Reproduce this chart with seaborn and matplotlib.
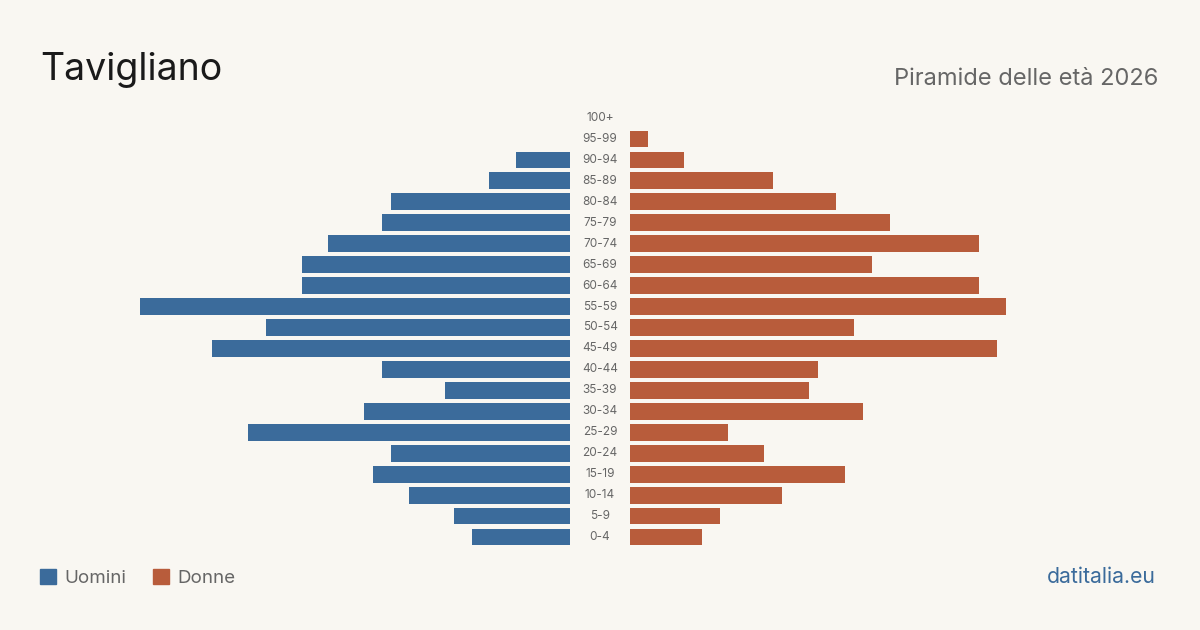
import matplotlib
matplotlib.use("Agg")
import matplotlib.pyplot as plt
import seaborn as sns
import pandas as pd
from matplotlib.patches import Rectangle

# age classes, top to bottom
age_groups = ["100+", "95-99", "90-94", "85-89", "80-84", "75-79", "70-74",
              "65-69", "60-64", "55-59", "50-54", "45-49", "40-44", "35-39",
              "30-34", "25-29", "20-24", "15-19", "10-14", "5-9", "0-4"]
uomini = [0, 0, 6, 9, 20, 21, 27, 30, 30, 48, 34, 40, 21, 14, 23, 36, 20, 22, 18, 13, 11]
donne = [0, 2, 6, 16, 23, 29, 39, 27, 39, 42, 25, 41, 21, 20, 26, 11, 15, 24, 17, 10, 8]

BG = "#f9f7f2"
BLUE = "#3b6b9b"
ORANGE = "#b85c3b"
GREY = "#666666"

sns.set_theme(style="white")
plt.rcParams["font.family"] = ["Inter", "DejaVu Sans"]

df = pd.DataFrame({"age": age_groups, "uomini": uomini, "donne": donne})

fig = plt.figure(figsize=(12, 6.3), dpi=100)
fig.patch.set_facecolor(BG)

W, H = 1200, 630
px = 8.95  # pixels per person
top, bottom = 107.5, 547.5
ax_h = (bottom - top) / H
ax_b = 1 - bottom / H
left_w = 450
axL = fig.add_axes([(570 - left_w) / W, ax_b, left_w / W, ax_h])
axR = fig.add_axes([630 / W, ax_b, left_w / W, ax_h])

sns.barplot(data=df, y="age", x="uomini", order=age_groups, color=BLUE,
            width=0.8, saturation=1, linewidth=0, ax=axL)
sns.barplot(data=df, y="age", x="donne", order=age_groups, color=ORANGE,
            width=0.8, saturation=1, linewidth=0, ax=axR)

xmax = left_w / px
axL.set_xlim(xmax, 0)
axR.set_xlim(0, xmax)
for ax in (axL, axR):
    ax.set_facecolor("none")
    ax.set_ylim(len(age_groups) - 0.5, -0.5)
    ax.set_xticks([])
    ax.set_yticks([])
    ax.set_xlabel("")
    ax.set_ylabel("")
    sns.despine(ax=ax, left=True, bottom=True)

# centre labels
for i, lab in enumerate(age_groups):
    axR.text(-30 / px, i, lab, ha="center", va="center", fontsize=8.5,
             color=GREY, clip_on=False)

fig.text(40 / W, 1 - 80 / H, "Tavigliano", fontsize=27, color="#1a1a1a",
         ha="left", va="baseline")
fig.text(1158 / W, 1 - 85 / H, "Piramide delle età 2026", fontsize=17,
         color=GREY, ha="right", va="baseline")

# legend
fig.patches.append(Rectangle((40 / W, 1 - 584 / H), 16 / W, 15 / H,
                             transform=fig.transFigure, color=BLUE))
fig.text(64 / W, 1 - 583 / H, "Uomini", fontsize=13.5, color=GREY,
         ha="left", va="baseline")
fig.patches.append(Rectangle((153 / W, 1 - 584 / H), 16 / W, 15 / H,
                             transform=fig.transFigure, color=ORANGE))
fig.text(177 / W, 1 - 583 / H, "Donne", fontsize=13.5, color=GREY,
         ha="left", va="baseline")

fig.text(1156 / W, 1 - 583 / H, "datitalia.eu", fontsize=15.3, color=BLUE,
         ha="right", va="baseline")

fig.savefig("out.png", dpi=100, facecolor=BG)
plt.close(fig)
